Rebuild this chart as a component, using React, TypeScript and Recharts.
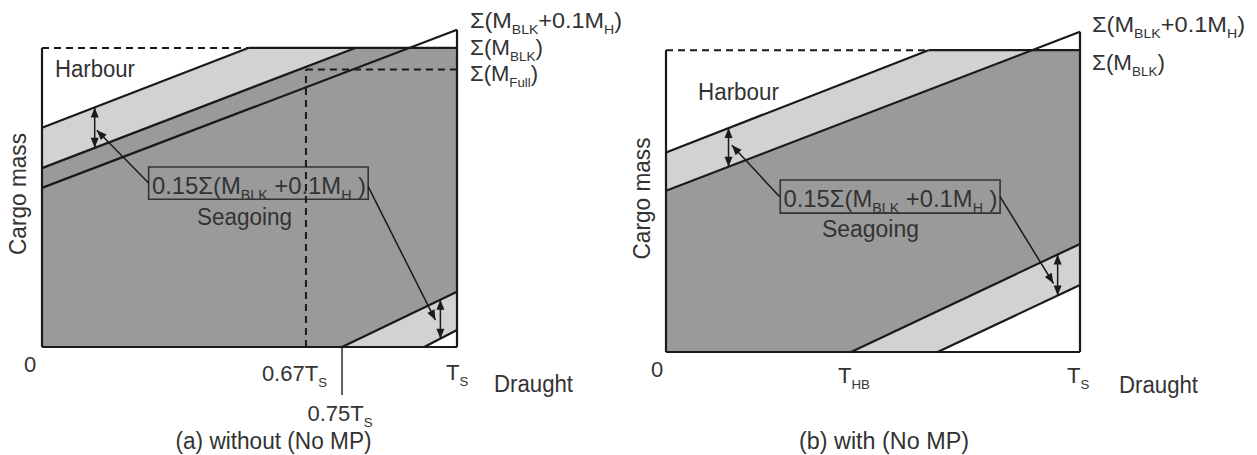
import React from 'react';
import { ComposedChart, Area, XAxis, YAxis, ReferenceLine, ReferenceArea } from 'recharts';

type Pt = [number, number];
type Seg = [Pt, Pt];

const DARK = '#9a9a9a';
const LIGHT = '#d2d2d2';
const INK = '#1a1a1a';
const TEXT = '#333333';
const FONT = '"Liberation Sans", Arial, sans-serif';

// x = draught / T_S, y = cargo mass / Σ(M_BLK)

// ---- (a) without (No MP) ----
const aHarbourBand = [
  { x: 0, band: [0.598, 0.733] },
  { x: 0.497, band: [0.862, 1] },
  { x: 0.755, band: [1, 1] },
];
const aSeagoing = [
  { x: 0, band: [0, 0.598] },
  { x: 0.723, band: [0, 0.983] },
  { x: 0.755, band: [0.021, 1] },
  { x: 1, band: [0.185, 1] },
];
const aLowBand = [
  { x: 0.723, band: [0, 0] },
  { x: 0.921, band: [0, 0.132] },
  { x: 1, band: [0.057, 0.185] },
];
const aSolid: Seg[] = [
  [[0, 0], [0, 1]],
  [[0, 0], [1, 0]],
  [[1, 0], [1, 1.061]],
  [[0.497, 1], [1, 1]],
  [[0, 0.733], [0.497, 1]],
  [[0, 0.598], [0.755, 1]],
  [[0, 0.532], [1, 1.061]],
  [[0.723, 0], [1, 0.185]],
  [[0.921, 0], [1, 0.057]],
];
const aDashed: Seg[] = [
  [[0, 1], [0.497, 1]],
  [[0.636, 0], [0.636, 0.928]],
  [[0.636, 0.928], [1, 0.928]],
];
const aDouble: Seg[] = [
  [[0.127, 0.801], [0.127, 0.666]],
  [[0.96, 0.158], [0.96, 0.028]],
];
const aPointer: Seg[] = [
  [[0.257, 0.548], [0.132, 0.725]],
  [[0.786, 0.536], [0.948, 0.09]],
];
const aNote = { x1: 0.257, x2: 0.786, y1: 0.494, y2: 0.602 };
const aTicks = [0, 0.636, 0.723, 1];
const aTickLabels = ['0', '0.67T_{S}', '0.75T_{S}', 'T_{S}'];
const aRightLabels = ['Σ(M_{BLK}+0.1M_{H})', 'Σ(M_{BLK})', 'Σ(M_{Full})'];
const aCaption = '(a) without (No MP)';

// ---- (b) with (No MP) ----
const bHarbourBand = [
  { x: 0, band: [0.534, 0.661] },
  { x: 0.634, band: [0.868, 1] },
  { x: 0.88, band: [1, 1] },
];
const bSeagoing = [
  { x: 0, band: [0, 0.534] },
  { x: 0.447, band: [0, 0.77] },
  { x: 0.88, band: [0.28, 1] },
  { x: 1, band: [0.358, 1] },
];
const bLowBand = [
  { x: 0.447, band: [0, 0] },
  { x: 0.656, band: [0, 0.135] },
  { x: 1, band: [0.222, 0.358] },
];
const bSolid: Seg[] = [
  [[0, 0], [0, 1]],
  [[0, 0], [1, 0]],
  [[1, 0], [1, 1.061]],
  [[0.634, 1], [1, 1]],
  [[0, 0.661], [0.634, 1]],
  [[0, 0.534], [1, 1.061]],
  [[0.447, 0], [1, 0.358]],
  [[0.656, 0], [1, 0.222]],
];
const bDashed: Seg[] = [[[0, 1], [0.634, 1]]];
const bDouble: Seg[] = [
  [[0.151, 0.742], [0.151, 0.614]],
  [[0.946, 0.323], [0.946, 0.187]],
];
const bPointer: Seg[] = [
  [[0.274, 0.515], [0.159, 0.685]],
  [[0.807, 0.515], [0.936, 0.227]],
];
const bNote = { x1: 0.276, x2: 0.807, y1: 0.46, y2: 0.57 };
const bTicks = [0, 0.447, 1];
const bTickLabels = ['0', 'T_{HB}', 'T_{S}'];
const bRightLabels = ['Σ(M_{BLK}+0.1M_{H})', 'Σ(M_{BLK})'];
const bCaption = '(b) with (No MP)';

const NOTE = '0.15Σ(M_{BLK} +0.1M_{H} )';

// text with _{sub} parts
function Rich({ x, y, text, size, len, anchor = 'start', rotate = false }: any) {
  const parts = text.split(/_\{([^}]*)\}/);
  const shift = size * 0.25;
  let down = false;
  const spans: any[] = [];
  parts.forEach((p: string, i: number) => {
    if (!p) return;
    const isSub = i % 2 === 1;
    let dy = 0;
    if (isSub && !down) { dy = shift; down = true; }
    else if (!isSub && down) { dy = -shift; down = false; }
    spans.push(<tspan key={i} dy={dy} fontSize={isSub ? size * 0.6 : size}>{p}</tspan>);
  });
  return (
    <text
      x={x}
      y={y}
      fontSize={size}
      fontFamily={FONT}
      fill={TEXT}
      textAnchor={anchor}
      textLength={len}
      lengthAdjust={len ? 'spacingAndGlyphs' : undefined}
      transform={rotate ? `rotate(-90 ${x} ${y})` : undefined}
    >
      {spans}
    </text>
  );
}

function arrowHead(x: number, y: number, ang: number, len: number, half: number) {
  const bx = x - len * Math.cos(ang);
  const by = y - len * Math.sin(ang);
  const px = -Math.sin(ang) * half;
  const py = Math.cos(ang) * half;
  return `${x},${y} ${bx + px},${by + py} ${bx - px},${by - py}`;
}

const arrowShape = (both: boolean) => (p: any) => {
  const { x1, y1, x2, y2 } = p;
  const ang = Math.atan2(y2 - y1, x2 - x1);
  return (
    <g>
      <line x1={x1} y1={y1} x2={x2} y2={y2} stroke={INK} strokeWidth={1.5} />
      <polygon points={arrowHead(x2, y2, ang, 10, 4)} fill={INK} />
      {both && <polygon points={arrowHead(x1, y1, ang + Math.PI, 10, 4)} fill={INK} />}
    </g>
  );
};

function AxisTick(props: any) {
  const { x, y, index, labels, spec } = props;
  const s = spec[index];
  if (!s) return null;
  return (
    <g>
      {s.lead ? <line x1={x} y1={y} x2={x} y2={y + s.lead} stroke={INK} strokeWidth={1.4} /> : null}
      <Rich x={x + s.dx} y={y + s.dy} text={labels[index]} size={22} anchor={s.anchor} />
    </g>
  );
}

const seg = (s: Seg) => [{ x: s[0][0], y: s[0][1] }, { x: s[1][0], y: s[1][1] }];

function Panel(props: any) {
  const { harbour, seagoing, low, solid, dashed, doubles, pointers, note, ticks, labels, spec, width, margin } = props;
  return (
    <ComposedChart width={width} height={455} margin={margin}>
      <XAxis
        type="number"
        dataKey="x"
        domain={[0, 1]}
        ticks={ticks}
        interval={0}
        axisLine={false}
        tickLine={false}
        tickSize={0}
        tickMargin={0}
        height={30}
        allowDataOverflow
        tick={(p: any) => <AxisTick {...p} labels={labels} spec={spec} />}
      />
      <YAxis type="number" domain={[0, 1.1]} hide allowDataOverflow />
      <Area data={seagoing} dataKey="band" type="linear" fill={DARK} fillOpacity={1} stroke="none" dot={false} activeDot={false} isAnimationActive={false} />
      <Area data={harbour} dataKey="band" type="linear" fill={LIGHT} fillOpacity={1} stroke="none" dot={false} activeDot={false} isAnimationActive={false} />
      <Area data={low} dataKey="band" type="linear" fill={LIGHT} fillOpacity={1} stroke="none" dot={false} activeDot={false} isAnimationActive={false} />
      <ReferenceArea x1={note.x1} x2={note.x2} y1={note.y1} y2={note.y2} fill="none" fillOpacity={0} stroke={TEXT} strokeWidth={1.6} />
      {dashed.map((s: Seg, i: number) => (
        <ReferenceLine key={`d${i}`} segment={seg(s)} stroke={INK} strokeWidth={2} strokeDasharray="7 5" />
      ))}
      {solid.map((s: Seg, i: number) => (
        <ReferenceLine key={`s${i}`} segment={seg(s)} stroke={INK} strokeWidth={2.2} />
      ))}
      {doubles.map((s: Seg, i: number) => (
        <ReferenceLine key={`a${i}`} segment={seg(s)} shape={arrowShape(true)} />
      ))}
      {pointers.map((s: Seg, i: number) => (
        <ReferenceLine key={`p${i}`} segment={seg(s)} shape={arrowShape(false)} />
      ))}
    </ComposedChart>
  );
}

const aSpec = [
  { dx: -12, dy: 25, anchor: 'middle' },
  { dx: 21, dy: 34, anchor: 'end' },
  { dx: -2, dy: 74, anchor: 'middle', lead: 48 },
  { dx: -11, dy: 33, anchor: 'start' },
];
const bSpec = [
  { dx: -9, dy: 25, anchor: 'middle' },
  { dx: -13, dy: 31, anchor: 'start' },
  { dx: -13, dy: 31, anchor: 'start' },
];

export default function App() {
  return (
    <div style={{ position: 'absolute', left: 0, top: 0, width: 1257, height: 455, background: '#fff' }}>
      <div style={{ position: 'absolute', left: 0, top: 0 }}>
        <Panel
          harbour={aHarbourBand}
          seagoing={aSeagoing}
          low={aLowBand}
          solid={aSolid}
          dashed={aDashed}
          doubles={aDouble}
          pointers={aPointer}
          note={aNote}
          ticks={aTicks}
          labels={aTickLabels}
          spec={aSpec}
          width={630}
          margin={{ top: 18, right: 173, bottom: 78, left: 42 }}
        />
      </div>
      <div style={{ position: 'absolute', left: 624, top: 0 }}>
        <Panel
          harbour={bHarbourBand}
          seagoing={bSeagoing}
          low={bLowBand}
          solid={bSolid}
          dashed={bDashed}
          doubles={bDouble}
          pointers={bPointer}
          note={bNote}
          ticks={bTicks}
          labels={bTickLabels}
          spec={bSpec}
          width={633}
          margin={{ top: 20, right: 177, bottom: 73, left: 42 }}
        />
      </div>
      <svg width={1257} height={455} style={{ position: 'absolute', left: 0, top: 0, pointerEvents: 'none' }}>
        {/* panel (a) */}
        <Rich x={55} y={77} size={23} len={80} text="Harbour" />
        <Rich x={197} y={225} size={23} len={95} text="Seagoing" />
        <Rich x={152} y={194} size={24} len={214} text={NOTE} />
        <Rich x={26} y={194} size={23} len={122} anchor="middle" rotate text="Cargo mass" />
        <Rich x={470} y={28} size={22} len={152} text={aRightLabels[0]} />
        <Rich x={470} y={55} size={22} len={73} text={aRightLabels[1]} />
        <Rich x={470} y={81} size={22} len={68} text={aRightLabels[2]} />
        <Rich x={494} y={392} size={23} len={79} text="Draught" />
        <Rich x={273.5} y={449} size={23} len={196} anchor="middle" text={aCaption} />
        {/* panel (b) */}
        <Rich x={698} y={100} size={23} len={81} text="Harbour" />
        <Rich x={822} y={237} size={23} len={97} text="Seagoing" />
        <Rich x={783.5} y={207} size={24} len={214} text={NOTE} />
        <Rich x={650} y={198.5} size={23} len={122} anchor="middle" rotate text="Cargo mass" />
        <Rich x={1092} y={32} size={22} len={153} text={bRightLabels[0]} />
        <Rich x={1092} y={70} size={22} len={73} text={bRightLabels[1]} />
        <Rich x={1119} y={393} size={23} len={79} text="Draught" />
        <Rich x={884} y={449} size={23} len={170} anchor="middle" text={bCaption} />
      </svg>
    </div>
  );
}
